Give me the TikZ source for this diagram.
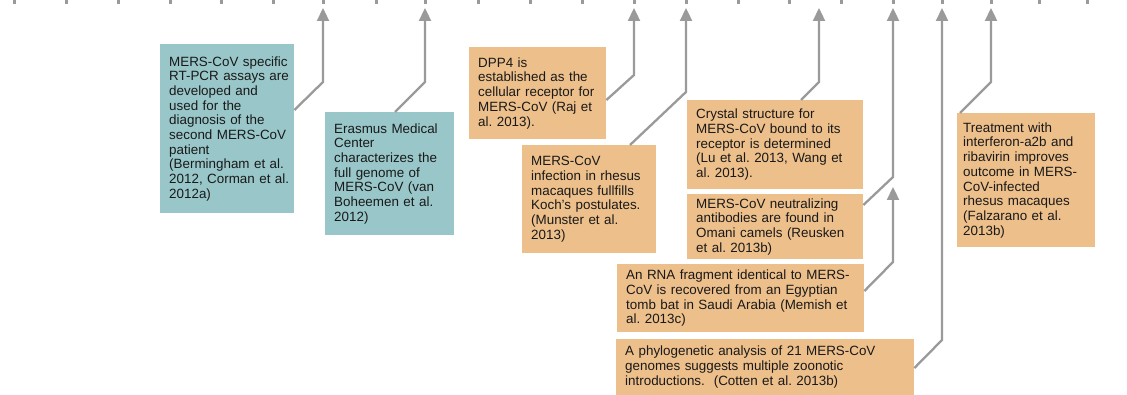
\documentclass[tikz,border=0pt]{standalone}
\usepackage{fontspec}
\setmainfont{Liberation Sans}
\usetikzlibrary{arrows.meta, positioning}
\definecolor{tealbox}{HTML}{99C7C9}
\definecolor{sandbox}{HTML}{EDBF8B}
\definecolor{linegray}{HTML}{9A9A9A}
\frenchspacing

\begin{document}
\begin{tikzpicture}[
    x=1pt, y=-1pt,
    >={Triangle[length=13pt, width=12pt]},
    every node/.style={font=\fontsize{13.4}{14.7}\selectfont, text=black!90},
    event/.style={anchor=north west, align=left, inner xsep=0pt, inner ysep=0pt,
                  execute at begin node={\leftskip=9pt}},
    early/.style={event, fill=tealbox},
    late/.style ={event, fill=sandbox},
    tick/.style ={linegray, line width=3pt},
    link/.style ={->, linegray, line width=2.3pt},
]
\useasboundingbox (0,0) rectangle (1127,395);

% time axis
\foreach \x in {14,66,118,170,221,273,323,376,425,478,530,582,634,686,738,789,841,893,942,991,1039,1087}
  \draw[tick] (\x,-1) -- (\x,4);

% arrow tips on the axis
\coordinate (tpcr)     at (323,8);
\coordinate (tgenome)  at (425,8);
\coordinate (tdpp)     at (634,8);
\coordinate (trhesus)  at (686,8);
\coordinate (tcrystal) at (819,8);
\coordinate (tcamels)  at (893,8);
\coordinate (tbat)     at (893,187);
\coordinate (tphylo)   at (942,8);
\coordinate (ttreat)   at (991,8);

% events
\node[early, text width=134pt, minimum height=169pt] (pcr) at (160,44)
   {MERS-CoV specific\\ RT-PCR assays are\\ developed and\\ used for the\\
    diagnosis of the\\ second MERS-CoV\\ patient\\ (Bermingham et al.\\
    2012, Corman et al.\\ 2012a)};
\node[early, text width=129pt, minimum height=123pt] (genome) at (325,112)
   {Erasmus Medical\\ Center\\ characterizes the\\ full genome of\\
    MERS-CoV (van\\ Boheemen et al.\\ 2012)};
\node[late, text width=137pt, minimum height=92pt] (dpp) at (469,47)
   {DPP4 is\\ established as the\\ cellular receptor for\\ MERS-CoV (Raj et\\ al. 2013).};
\node[late, text width=134pt, minimum height=108pt] (rhesus) at (522,145)
   {MERS-CoV\\ infection in rhesus\\ macaques fullfills\\ Koch's postulates.\\
    (Munster et al.\\ 2013)};
\node[late, text width=176pt, minimum height=89pt] (crystal) at (687,100)
   {Crystal structure for\\ MERS-CoV bound to its\\ receptor is determined\\
    (Lu et al. 2013, Wang et\\ al. 2013).};
\node[late, text width=176pt, minimum height=65pt] (camels) at (687,194)
   {MERS-CoV neutralizing\\ antibodies are found in\\ Omani camels (Reusken\\ et al. 2013b)};
\node[late, text width=247pt, minimum height=68pt] (bat) at (617,264)
   {An RNA fragment identical to MERS-\\ CoV is recovered from an Egyptian\\
    tomb bat in Saudi Arabia (Memish et\\ al. 2013c)};
\node[late, text width=298pt, minimum height=56pt] (phylo) at (616,339)
   {A phylogenetic analysis of 21 MERS-CoV\\ genomes suggests multiple zoonotic\\
    introductions.\ \ (Cotten et al. 2013b)};
\node[late, text width=138pt, minimum height=134pt,
      execute at begin node={\leftskip=6pt}] (treat) at (957,113)
   {Treatment with\\ interferon-a2b and\\ ribavirin improves\\ outcome in MERS-\\
    CoV-infected\\ rhesus macaques\\ (Falzarano et al.\\ 2013b)};

% connectors: kink, then straight up to the axis
\draw[link] ([yshift=-66pt]pcr.north east)      -- ([yshift=-74pt]tpcr)     -- (tpcr);
\draw[link] ([xshift=70pt]genome.north west)    -- ([yshift=-74pt]tgenome)  -- (tgenome);
\draw[link] ([yshift=-53pt]dpp.north east)      -- ([yshift=-67pt]tdpp)     -- (tdpp);
\draw[link] ([xshift=108pt]rhesus.north west)   -- ([yshift=-84pt]trhesus)  -- (trhesus);
\draw[link] ([xshift=114pt]crystal.north west)  -- ([yshift=-74pt]tcrystal) -- (tcrystal);
\draw[link] ([yshift=-11pt]camels.north east)   -- ([yshift=-169pt]tcamels) -- (tcamels);
\draw[link] ([yshift=-27pt]bat.north east)      -- ([yshift=-75pt]tbat)     -- (tbat);
\draw[link] ([yshift=-29pt]phylo.north east)    -- ([yshift=-332pt]tphylo)  -- (tphylo);
\draw[link] ([xshift=3pt]treat.north west)      -- ([yshift=-74pt]ttreat)   -- (ttreat);
\end{tikzpicture}
\end{document}
